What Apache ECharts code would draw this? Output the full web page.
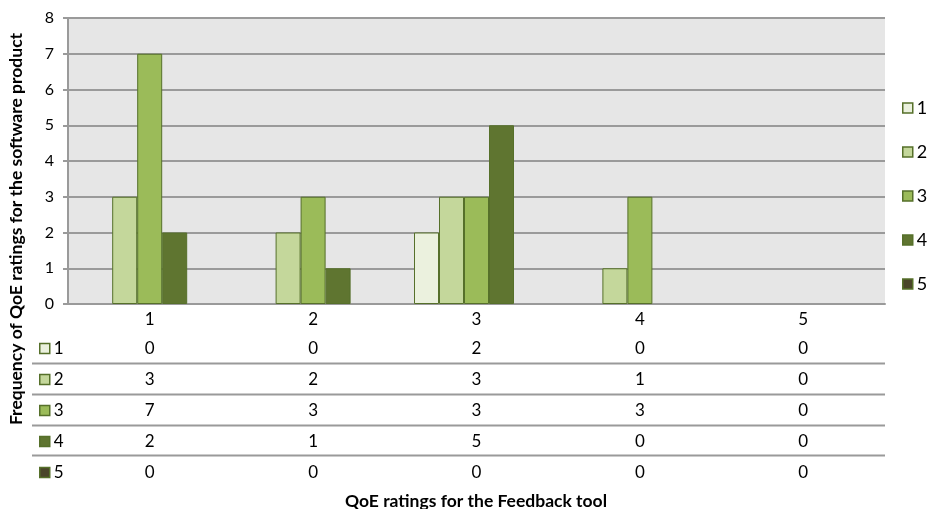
<!DOCTYPE html>
<html>
<head>
<meta charset="utf-8">
<script src="https://cdn.jsdelivr.net/npm/echarts@6/dist/echarts.min.js"></script>
<style>
  html, body { margin: 0; padding: 0; background: #fff; }
  #chart { width: 936px; height: 509px; }
</style>
</head>
<body>
<div id="chart"></div>
<script>
// Feedback-tool rating (category) vs. count of software-product ratings per level
const categories = ['1', '2', '3', '4', '5'];
const seriesNames = ['1', '2', '3', '4', '5'];
const rating1 = [0, 0, 2, 0, 0];
const rating2 = [3, 2, 3, 1, 0];
const rating3 = [7, 3, 3, 3, 0];
const rating4 = [2, 1, 5, 0, 0];
const rating5 = [0, 0, 0, 0, 0];
const yMin = 0, yMax = 8, yStep = 1;

const seriesValues = [rating1, rating2, rating3, rating4, rating5];
const fills = ['#ebf1de', '#c4d79b', '#9bbb59', '#5f7530', '#4a452a'];
const edge = '#56702a';
const FONT = 'Lato, "Liberation Sans", sans-serif';

const chart = echarts.init(document.getElementById('chart'), null, { renderer: 'canvas' });

// Axis label doubles as the data-table column: category on top, then one line per series
const tableRich = {
  c: { fontSize: 17, fontFamily: FONT, color: '#000', lineHeight: 26 },
  v: { fontSize: 17, fontFamily: FONT, color: '#000', lineHeight: 31 }
};
function columnLabel(value, idx) {
  const lines = ['{c|' + value + '}'];
  seriesValues.forEach(arr => lines.push('{v|' + arr[idx] + '}'));
  return lines.join('\n');
}

const series = seriesNames.map((name, i) => ({
  name: name,
  type: 'bar',
  barWidth: 25,
  barGap: '0%',
  itemStyle: { color: fills[i], borderColor: edge, borderWidth: 1 },
  data: seriesValues[i].map(v => v === 0
    ? { value: v, itemStyle: { borderWidth: 0 } }
    : v)
}));

function legendAt(left, top, gap, size) {
  return {
    orient: 'vertical',
    left: left, top: top, itemGap: gap,
    icon: 'rect',
    itemWidth: 10,
    itemHeight: 10,
    padding: 0,
    data: seriesNames,
    selectedMode: false,
    itemStyle: { borderColor: edge, borderWidth: 1.5 },
    textStyle: { fontSize: size, fontFamily: FONT, color: '#000', padding: [0, 0, 0, -1] }
  };
}

const tableLineYs = [363.5, 394.5, 425.5, 455.5];

chart.setOption({
  animation: false,
  backgroundColor: '#fff',
  grid: {
    left: 68, right: 51, top: 18, bottom: 205,
    show: true, backgroundColor: '#e6e6e6', borderWidth: 0
  },
  legend: [
    legendAt(902, 99, 26, 18),
    legendAt(39, 340, 14, 17)
  ],
  xAxis: {
    type: 'category',
    data: categories,
    axisLine: { show: true, lineStyle: { color: '#9a9a9a', width: 2 } },
    axisTick: { show: false },
    axisLabel: {
      margin: 3,
      formatter: columnLabel,
      rich: tableRich,
      verticalAlign: 'top'
    }
  },
  yAxis: {
    type: 'value',
    min: yMin, max: yMax, interval: yStep,
    axisLine: { show: true, lineStyle: { color: '#9a9a9a', width: 2 } },
    axisTick: { show: true, length: 5, lineStyle: { color: '#9a9a9a', width: 2 } },
    axisLabel: { fontSize: 16, fontFamily: FONT, color: '#000', margin: 14 },
    splitLine: { show: true, lineStyle: { color: '#9a9a9a', width: 2 } }
  },
  graphic: [
    {
      type: 'text',
      x: 16, y: 229,
      rotation: Math.PI / 2,
      style: {
        text: 'Frequency of QoE ratings for the software product',
        fontSize: 17.5, fontWeight: 'bold', fontFamily: FONT, fill: '#000',
        align: 'center', verticalAlign: 'middle'
      }
    },
    {
      type: 'text',
      x: 476, y: 501,
      style: {
        text: 'QoE ratings for the Feedback tool',
        fontSize: 17.5, fontWeight: 'bold', fontFamily: FONT, fill: '#000',
        align: 'center', verticalAlign: 'middle'
      }
    }
  ].concat(tableLineYs.map(y => ({
    type: 'line',
    shape: { x1: 32, y1: y, x2: 885, y2: y },
    style: { stroke: '#9a9a9a', lineWidth: 2 }
  }))),
  series: series
});
</script>
</body>
</html>
